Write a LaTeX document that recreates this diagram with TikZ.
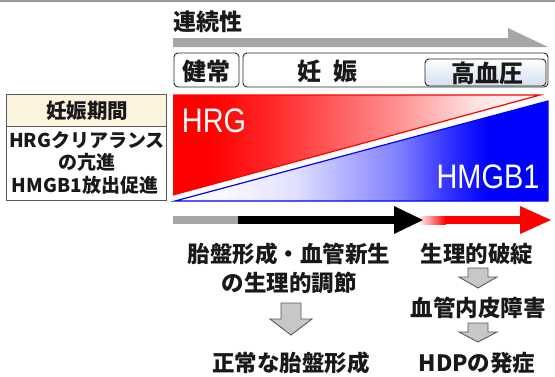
\documentclass[tikz,border=0pt]{standalone}
\usepackage{fontspec}
\setmainfont{Noto Sans CJK JP}
\newfontfamily\arialf{Liberation Sans}
\usepackage{graphicx}
\definecolor{barg}{HTML}{A6A6A6}
\definecolor{beige}{HTML}{FCF3DC}
\definecolor{lblue}{HTML}{D3DFEE}
\pgfdeclarehorizontalshading{redfade}{100bp}{color(0bp)=(red); color(30bp)=(red); color(38bp)=(red!85); color(55bp)=(red!45); color(66bp)=(red!12); color(75bp)=(white); color(100bp)=(white)}
\pgfdeclarehorizontalshading{bluefade}{100bp}{color(0bp)=(white); color(25bp)=(white); color(32bp)=(blue!3); color(41bp)=(blue!12); color(55bp)=(blue!50); color(62bp)=(blue!82); color(67bp)=(blue); color(100bp)=(blue)}
\begin{document}
\begin{tikzpicture}[x=1pt,y=-1pt,
  lbl/.style={font=\fontsize{22.5}{26}\selectfont\bfseries, text=black!90, inner sep=0pt},
  boxlbl/.style={font=\fontsize{24}{26}\selectfont\bfseries, text=black!90, inner sep=0pt},
  tbl/.style={font=\fontsize{19}{22.5}\selectfont\bfseries, text=black!90, inner sep=0pt, align=center},
  stagebox/.style={draw=black!85, line width=0.9pt, rounded corners=4pt},
  darr/.style={fill=black!22, draw=black!65, line width=0.9pt, line join=miter},
  big/.style={font=\arialf\fontsize{34}{34}\selectfont, text=white, inner sep=0pt}]
\useasboundingbox (0,0) rectangle (555,376);
% top line
\draw[black!40, line width=1.5pt] (0,0.8) -- (555,0.8);
% continuity
\node[boxlbl, font=\fontsize{23}{26}\selectfont\bfseries, anchor=west] (cont) at (173,22) {連続性};
\fill[barg] (173,38) -- (508,38) -- (508,28) -- (548,47) -- (173,47) -- cycle;
% stage boxes
\draw[stagebox] (174,53) rectangle (239,87);
\node[boxlbl] (healthy) at (206.5,71) {健常};
\draw[stagebox] (243,53) rectangle (548,87);
\node[boxlbl] (preg) at (327,71) {妊\hspace{12pt}娠};
\draw[stagebox, top color=white, bottom color=lblue] (425,59) rectangle (546,86);
\node[boxlbl] (hyper) at (487,73) {高血圧};
% left table
\draw[black!65, line width=0.9pt, fill=beige] (6,94) rectangle (166,126);
\draw[black!65, line width=0.9pt] (6,126) rectangle (166,200);
\node[tbl, font=\fontsize{20.5}{22.5}\selectfont\bfseries] (period) at (87,111) {妊娠期間};
\node[tbl] (t1) at (87,140) {HRGクリアランス};
\node[tbl] (t2) at (87,162) {の亢進};
\node[tbl] (t3) at (85,185) {HMGB1放出促進};
% triangles
\shade[shading=redfade] (173,95) -- (540,95) -- (173,195) -- cycle;
\draw[red, line width=1.2pt, line join=miter] (173,95) -- (540,95) -- (173,195);
\shade[shading=bluefade] (175,201) -- (548,101) -- (548,201) -- cycle;
\draw[blue, line width=1.2pt] (175,201) -- (548,101) -- (548,201) -- cycle;
\node[big] (hrg) at (214,121) {\scalebox{0.85}[1]{HRG}};
\node[big] (hmgb) at (488,177) {\scalebox{0.85}[1]{HMGB1}};
% bottom arrow
\fill[barg] (173,216) rectangle (238,224);
\shade[left color=white, right color=red] (418,216) rectangle (446,224);
\fill[red] (445,216) rectangle (521,224);
\fill[red] (520,206) -- (551,220) -- (520,234) -- cycle;
\fill[black] (238,216) rectangle (395,224);
\fill[black] (394,206) -- (423,220) -- (394,234) -- cycle;
% labels
\node[lbl] (a1) at (289,254) {胎盤形成・血管新生};
\node[lbl] (a2) at (289,283) {の生理的調節};
\node[lbl] (a3) at (291,363) {正常な胎盤形成};
\node[lbl] (b1) at (477,254) {生理的破綻};
\node[lbl] (b2) at (478,308) {血管内皮障害};
\node[lbl] (b3) at (477,363) {HDPの発症};
% down arrows
\draw[darr] (281,303) -- (301,303) -- (301,319) -- (312,319) -- (291,335) -- (270,319) -- (281,319) -- cycle;
\draw[darr] (468,268) -- (488,268) -- (488,277) -- (497,277) -- (478,288) -- (459,277) -- (468,277) -- cycle;
\draw[darr] (468,323) -- (488,323) -- (488,332) -- (497,332) -- (478,342) -- (459,332) -- (468,332) -- cycle;
\end{tikzpicture}
\end{document}
